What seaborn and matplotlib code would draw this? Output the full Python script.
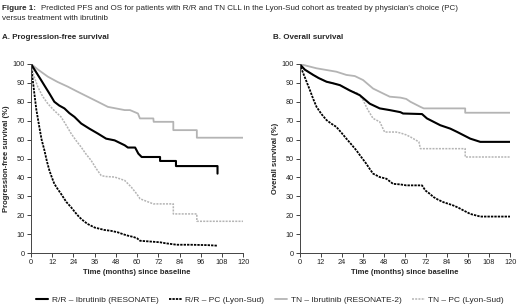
import pandas as pd
import matplotlib
matplotlib.use('Agg')
import matplotlib.pyplot as plt
import seaborn as sns

sns.set_style('ticks')
plt.rcParams['font.family'] = ['Liberation Sans', 'DejaVu Sans']

series_names = ['R/R \u2013 Ibrutinib (RESONATE)', 'R/R \u2013 PC (Lyon-Sud)',
                'TN \u2013 Ibrutinib (RESONATE-2)', 'TN \u2013 PC (Lyon-Sud)']
month_ticks = list(range(0, 121, 12))
pct_ticks = list(range(0, 101, 10))

# Progression-free survival (months, %)
rr_ibr_pfs_t = [0, 2, 5.7, 8, 10.4, 13.2, 16, 18.9, 21.7, 24.6, 28.4, 33, 37.8, 42.5, 47.3, 53, 54.8, 58.9, 60.7, 62.6, 73, 73, 82, 82, 105.5, 105.5]
rr_ibr_pfs = [100, 97, 91.5, 88, 84.4, 80, 78, 76.5, 74, 72, 68.5, 65.8, 63.2, 60.5, 59.6, 57, 55.8, 55.8, 52.6, 50.8, 50.8, 48.7, 48.7, 46, 46, 42]
rr_pc_pfs_t = [0, 0.8, 1.9, 3, 4.7, 6, 7.6, 9, 10.4, 11.8, 13.2, 15, 17, 20, 22.7, 25, 27.4, 30, 32, 36, 41.6, 45, 49, 52, 54.8, 58, 60, 61.7, 66, 73, 76, 82.4, 90, 100, 105.5]
rr_pc_pfs = [100, 93, 84.4, 76, 66.7, 60, 54.3, 48.5, 43.7, 40, 36.6, 34, 31.3, 27, 24.2, 21.5, 18.9, 16.8, 15.4, 13.5, 12.2, 11.8, 11, 10, 9.2, 8.5, 7.8, 6.5, 6.2, 5.7, 5.2, 4.4, 4.4, 4.2, 3.9]
tn_ibr_pfs_t = [0, 4, 9.5, 15, 20.8, 26, 32, 37.8, 43.5, 48, 53, 56, 60.5, 61.6, 69.2, 69.4, 80.5, 80.5, 93.8, 93.8, 120]
tn_ibr_pfs = [100, 97, 93.3, 90.5, 88, 85.5, 82.7, 80, 77.3, 76.5, 75.6, 75.6, 73.8, 71.2, 71.2, 69.4, 69.4, 65, 65, 61, 61]
tn_pc_pfs_t = [0, 1.5, 3.8, 6.5, 9.5, 13, 17, 20, 22.7, 25.5, 28.4, 31, 34, 37, 39.7, 42, 47.3, 53, 56.7, 59.8, 61.7, 65, 69.2, 80.5, 80.5, 93.8, 93.8, 120]
tn_pc_pfs = [100, 94, 88, 83, 79, 75.5, 72, 67.5, 63.2, 59.5, 56, 52.5, 49, 44.5, 41, 40.5, 40.2, 38.4, 34.9, 31.3, 28.7, 27.5, 26, 26, 20.7, 20.7, 16.8, 16.8]

# Overall survival (months, %)
rr_ibr_os_t = [0, 3, 7.8, 11, 15.4, 19, 23, 28.6, 34.3, 40, 45.7, 51.4, 57.5, 59, 69.8, 72.6, 76.4, 80.2, 85.9, 89.7, 93.5, 97.3, 103, 120]
rr_ibr_os = [100, 97, 94.2, 92.5, 90.6, 89.8, 88.8, 86, 83.5, 79, 76.5, 75.6, 74.5, 73.8, 73.5, 71.2, 69.4, 67.6, 65.8, 64.1, 62.3, 60.5, 58.8, 58.8]
rr_pc_os_t = [0, 3, 5.9, 7.8, 9.7, 12.5, 15.4, 18, 21, 24, 26.7, 29.5, 32.4, 35, 38, 40, 41.9, 45.7, 49.5, 53.3, 57.5, 60.8, 69.8, 71.7, 74, 76.4, 79, 82, 85, 87.8, 90.5, 93.5, 97.3, 103, 120]
rr_pc_os = [100, 93, 86.2, 81.5, 77.3, 73.5, 70.3, 68.5, 66.7, 63.5, 60.5, 57.5, 54.3, 51, 47.3, 44.5, 42, 40.2, 39.3, 36.6, 36.3, 35.8, 35.8, 33.1, 31.5, 29.6, 28.2, 26.9, 26, 25.1, 24, 22.5, 20.7, 19.3, 19.3]
tn_ibr_os_t = [0, 9.7, 21, 26.7, 31.5, 36.2, 41.9, 47.6, 51.4, 57.5, 60.8, 63.2, 68.9, 70.8, 94.4, 94.4, 120]
tn_ibr_os = [100, 97.7, 95.9, 94.2, 93.6, 91.5, 87, 84.4, 82.7, 82.2, 81.5, 80, 77.3, 76.5, 76.5, 74.2, 74.2]
tn_pc_os_t = [0, 3, 7.8, 11, 15.4, 19, 23, 28.6, 33.4, 36.2, 39, 41.9, 45.7, 48.5, 55, 57.5, 60.8, 63.2, 68, 68.9, 94.4, 94.4, 120]
tn_pc_os = [100, 97, 94.2, 92.5, 90.6, 89.8, 88.8, 86, 84.4, 80.9, 75.6, 71.2, 69.4, 64, 64, 63.5, 62.5, 61.4, 58.8, 55.2, 55.2, 50.8, 50.8]

pfs_curves = [(rr_ibr_pfs_t, rr_ibr_pfs), (rr_pc_pfs_t, rr_pc_pfs), (tn_ibr_pfs_t, tn_ibr_pfs), (tn_pc_pfs_t, tn_pc_pfs)]
os_curves = [(rr_ibr_os_t, rr_ibr_os), (rr_pc_os_t, rr_pc_os), (tn_ibr_os_t, tn_ibr_os), (tn_pc_os_t, tn_pc_os)]


def to_frame(curves):
    rows = []
    for name, (t, s) in zip(series_names, curves):
        for ti, si in zip(t, s):
            rows.append({'month': ti, 'surv': si, 'series': name})
    return pd.DataFrame(rows)


palette = dict(zip(series_names, ['black', 'black', '#b4b4b4', '#b4b4b4']))
dashes = dict(zip(series_names, ['', (1.3, 0.6), '', (1.3, 0.8)]))
sizes = dict(zip(series_names, [1.5, 1.3, 1.3, 1.1]))

fig = plt.figure(figsize=(5.2, 3.06), dpi=100)
ax1 = fig.add_axes([0.0596, 0.173, 0.408, 0.618])
ax2 = fig.add_axes([0.576, 0.173, 0.405, 0.618])

for ax, curves, ylab in [(ax1, pfs_curves, 'Progression-free survival (%)'),
                         (ax2, os_curves, 'Overall survival (%)')]:
    # lighter TN curves go down first so the black ones sit on top
    df = to_frame(curves)
    sns.lineplot(data=df, x='month', y='surv', hue='series', style='series',
                 size='series', palette=palette, dashes=dashes, sizes=sizes,
                 hue_order=series_names[::-1], style_order=series_names[::-1],
                 size_order=series_names[::-1],
                 estimator=None, sort=False, ax=ax)
    ax.set_xlim(0, 120)
    ax.set_ylim(0, 100)
    ax.set_xticks(month_ticks)
    ax.set_yticks(pct_ticks)
    ax.tick_params(labelsize=5.3, length=3, width=0.6, pad=1.2, colors='#222222')
    for sp in ['left', 'bottom']:
        ax.spines[sp].set_linewidth(0.7)
        ax.spines[sp].set_color('#444444')
    sns.despine(ax=ax)
    ax.set_xlabel('Time (months) since baseline', fontsize=5.5, fontweight='bold', labelpad=2)
    ax.set_ylabel(ylab, fontsize=5.5, fontweight='bold', labelpad=2)

handles, labels = ax1.get_legend_handles_labels()
hmap = dict(zip(labels, handles))
ax1.get_legend().remove()
ax2.get_legend().remove()
fig.legend([hmap[n] for n in series_names], series_names, loc='center', bbox_to_anchor=(0.519, 0.02), ncol=4,
           frameon=False, fontsize=6.0, handlelength=1.5, columnspacing=1.3, handletextpad=0.4)

fig.text(0.004, 0.972, 'Figure 1:', fontsize=5.8, fontweight='bold', va='center')
fig.text(0.078, 0.972, "Predicted PFS and OS for patients with R/R and TN CLL in the Lyon-Sud cohort "
         "as treated by physician\u2019s choice (PC)", fontsize=5.8, va='center')
fig.text(0.004, 0.94, 'versus treatment with ibrutinib', fontsize=5.8, va='center')
fig.text(0.004, 0.876, 'A. Progression-free survival', fontsize=5.8, fontweight='bold', va='center')
fig.text(0.525, 0.876, 'B. Overall survival', fontsize=5.8, fontweight='bold', va='center')

fig.savefig('out.png', dpi=100)
